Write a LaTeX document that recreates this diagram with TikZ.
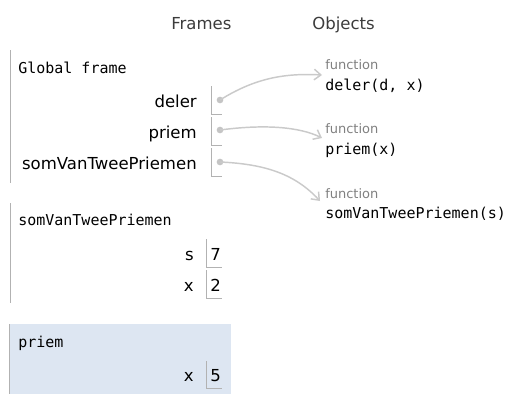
\documentclass[tikz,border=0pt]{standalone}
\usepackage{fontspec}
\setmainfont{DejaVu Sans}
\setmonofont{DejaVu Sans Mono}
\usepackage{xcolor}
\usetikzlibrary{arrows.meta,calc}
\definecolor{linegray}{RGB}{178,178,178}
\definecolor{refgray}{RGB}{202,202,202}
\definecolor{dotgray}{RGB}{196,196,196}
\definecolor{headgray}{RGB}{60,60,60}
\definecolor{activeblue}{RGB}{221,230,242}
\tikzset{
	varname/.style={anchor=base east, inner sep=0pt, font=\fontsize{12.4}{15}\selectfont},
	varval/.style={anchor=base west, inner sep=0pt, font=\fontsize{12.4}{15}\selectfont},
	ftitle/.style={anchor=base west, inner sep=0pt, font=\ttfamily\fontsize{11.25}{13}\selectfont},
	objkind/.style={anchor=base west, inner sep=0pt, text=gray, font=\fontsize{9.75}{11}\selectfont},
	header/.style={anchor=base west, inner sep=0pt, text=headgray, font=\fontsize{12.4}{15}\selectfont},
	ptr/.style={circle, fill=dotgray, inner sep=0pt, minimum size=5pt},
	ref/.style={draw=refgray, line width=1.1pt, -{Straight Barb[length=5pt,width=8pt]}},
	frameline/.style={linegray, line width=0.75pt}
}

\begin{document}
\begin{tikzpicture}[x=0.75pt, y=-0.75pt]
	\useasboundingbox (0,0) rectangle (514,407);

	\node[header] (hFrames) at (171,29) {Frames};
	\node[header] (hObjects) at (312,29) {Objects};

	% global frame
	\draw[frameline] (10,50) -- (10,183);
	\node[ftitle] (gTitle) at (18,73) {Global frame};
	\foreach \name/\top/\bot/\base in {deler/86/114/107, priem/117/145/138, somVanTweePriemen/148/176/169} {
		\node[varname] (g\name) at (197,\base) {\name};
		\draw[frameline] (211,\top) -- (211,\bot) -- (222,\bot);
	}
	\node[ptr] (pDeler) at (220,100) {};
	\node[ptr] (pPriem) at (220,130) {};
	\node[ptr] (pSom) at (220,162) {};

	% objects
	\node[objkind] (kDeler) at (325,69) {function};
	\node[ftitle] (oDeler) at (325,90) {deler(d, x)};
	\node[objkind] (kPriem) at (325,133) {function};
	\node[ftitle] (oPriem) at (325,154) {priem(x)};
	\node[objkind] (kSom) at (325,198) {function};
	\node[ftitle] (oSom) at (325,218) {somVanTweePriemen(s)};

	\coordinate (tDeler) at (322,75);
	\coordinate (tPriem) at (322,138);
	\coordinate (tSom) at (320,201);
	\draw[ref] (pDeler.center) .. controls (255,78) and (285,73) .. (tDeler);
	\draw[ref] (pPriem.center) .. controls (265,124) and (300,127) .. (tPriem);
	\draw[ref] (pSom.center) .. controls (265,164) and (295,174) .. (tSom);

	% somVanTweePriemen frame
	\draw[frameline] (10,203) -- (10,303);
	\node[ftitle] (sTitle) at (18,225) {somVanTweePriemen};
	\foreach \name/\val/\top/\bot/\base in {s/7/239/267/260, x/2/270/298/291} {
		\node[varname] (s\name) at (194,\base) {\name};
		\node[varval] (s\name val) at (210,\base) {\val};
		\draw[frameline] (206,\top) -- (206,\bot) -- (222,\bot);
	}

	% priem frame (active)
	\fill[activeblue] (9,324) rectangle (231,394);
	\draw[frameline] (9.5,324) -- (9.5,394);
	\node[ftitle] (pTitle) at (18,347) {priem};
	\node[varname] (px) at (194,381) {x};
	\node[varval] (pxval) at (210,381) {5};
	\draw[frameline] (206,361) -- (206,388) -- (222,388);
\end{tikzpicture}
\end{document}
